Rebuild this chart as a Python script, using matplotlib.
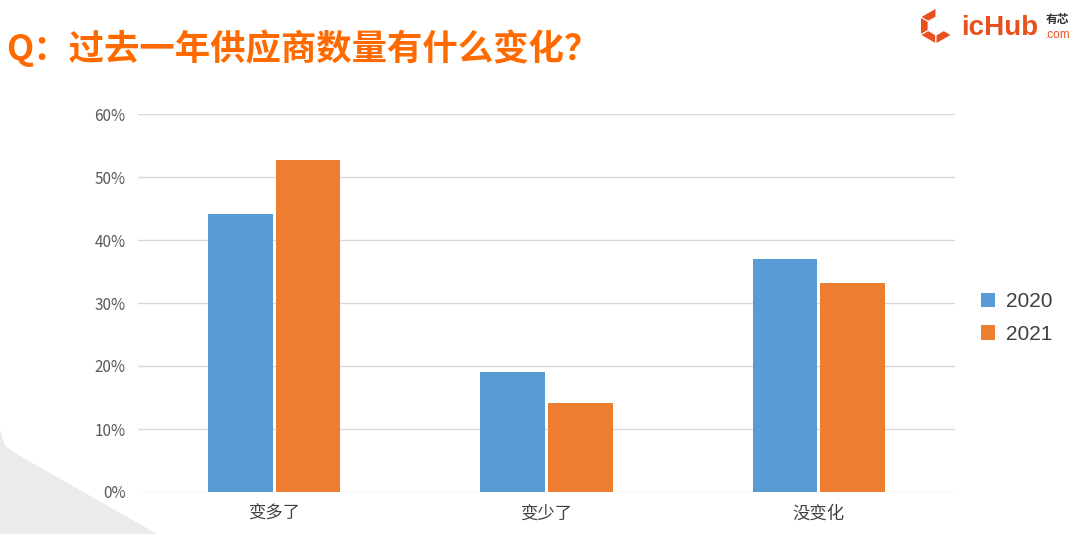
import matplotlib
matplotlib.use('Agg')
import matplotlib.pyplot as plt
from matplotlib.patches import Polygon
import numpy as np

plt.rcParams['font.family'] = ['Noto Sans CJK SC', 'DejaVu Sans']

# 数据
categories = ['变多了', '变少了', '没变化']
years = ['2020', '2021']
v2020 = [44.1, 19.0, 37.0]
v2021 = [52.7, 14.1, 33.2]
yticks = [0, 10, 20, 30, 40, 50, 60]

blue = '#5B9BD5'
orange = '#ED7D31'

fig = plt.figure(figsize=(10.8, 5.34), dpi=100)

# 左下角灰色背景块
fig.patches.append(Polygon([(0, 1 - 430 / 534), (5 / 1080, 1 - 446 / 534),
                            (20 / 1080, 1 - 456 / 534), (157 / 1080, 0), (0, 0)],
                           closed=True, transform=fig.transFigure,
                           facecolor='#EBEBEB', edgecolor='none', zorder=0))

ax = fig.add_axes([138 / 1080, 42 / 534, 817 / 1080, 378 / 534])
x = np.arange(len(categories))
w = 0.238
ax.bar(x - w / 2 - 0.005, v2020, w, color=blue, label=years[0], zorder=3)
ax.bar(x + w / 2 + 0.005, v2021, w, color=orange, label=years[1], zorder=3)

ax.set_xlim(-0.5, 2.5)
ax.set_ylim(0, 60)
ax.set_yticks(yticks)
ax.set_yticklabels([f'{t}%' for t in yticks], fontsize=11, color='#595959')
ax.set_xticks(x)
ax.set_xticklabels(categories, fontsize=12.5, color='#404040')
ax.tick_params(axis='both', length=0)
ax.tick_params(axis='y', pad=9)
ax.tick_params(axis='x', pad=9)
ax.grid(axis='y', color='#D9D9D9', linewidth=1, zorder=0)
for s in ax.spines.values():
    s.set_visible(False)
ax.patch.set_alpha(0)

fig.legend(loc='center left', bbox_to_anchor=(962 / 1080, 1 - 318 / 534),
           frameon=False, handlelength=0.7, handleheight=0.7,
           handletextpad=0.5, labelspacing=0.65, labelcolor='#404040',
           prop={'family': ['Liberation Sans'], 'size': 15})

# 标题
fig.text(6 / 1080, 1 - 48 / 534, 'Q：过去一年供应商数量有什么变化？', fontsize=25.5,
         fontweight='bold', color='#FF6A00', va='center', ha='left')

# logo
logo_c = '#E8501E'
cx, cy = 936, 26
ang = np.deg2rad(np.array([30, 90, 150, 210, 270, 330]))
outer = [((cx + 18 * np.cos(a)) / 1080, 1 - (cy - 18 * np.sin(a)) / 534) for a in ang]
inner = [((cx + 9 * np.cos(a)) / 1080, 1 - (cy - 9 * np.sin(a)) / 534) for a in ang]
for i in range(1, 5):
    j = i + 1
    fig.patches.append(Polygon([outer[i], outer[j], inner[j], inner[i]], closed=True,
                               transform=fig.transFigure, facecolor=logo_c,
                               edgecolor='white', linewidth=0.8))
fig.text(961 / 1080, 1 - 28 / 534, 'icHub', fontsize=20, fontweight='bold',
         color=logo_c, va='center', ha='left', family=['Liberation Sans'])
fig.text(1046 / 1080, 1 - 19 / 534, '有芯', fontsize=8.5, fontweight='bold',
         color='#333333', va='center', ha='left')
fig.text(1045 / 1080, 1 - 35 / 534, '.com', fontsize=8.5,
         color=logo_c, va='center', ha='left', family=['Liberation Sans'])

fig.savefig('out.png', dpi=100)
